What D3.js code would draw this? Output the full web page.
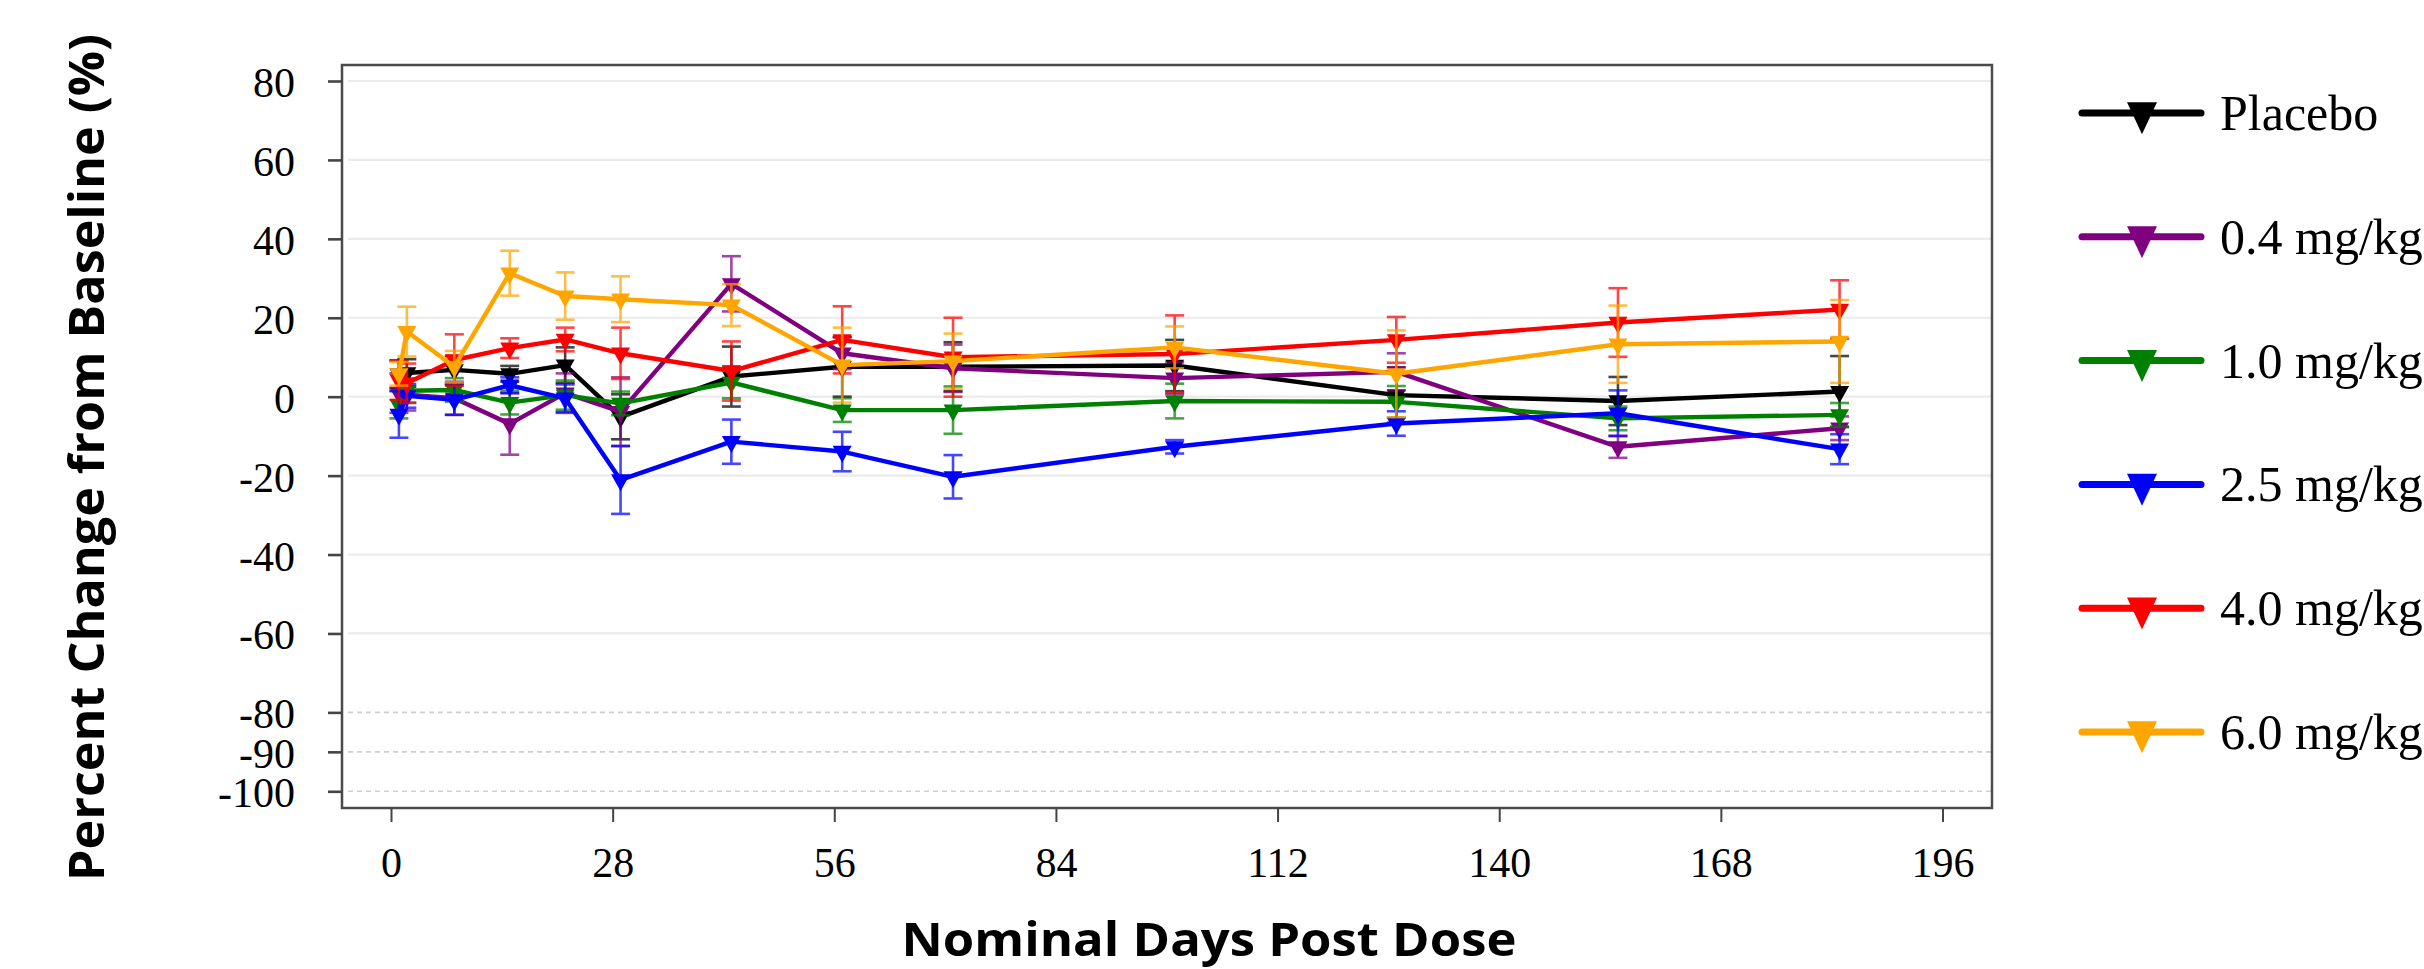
<!DOCTYPE html>
<html>
<head>
<meta charset="utf-8">
<script src="https://cdn.jsdelivr.net/npm/d3@7/dist/d3.min.js"></script>
<style>
  html, body { margin: 0; padding: 0; background: #fff; }
  svg { display: block; }
</style>
</head>
<body>
<svg id="chart" width="2424" height="969"></svg>
<script>
// ---- data ----
const days = [1, 2, 8, 15, 22, 29, 43, 57, 71, 99, 127, 155, 183];
const seriesNames = ["Placebo", "0.4 mg/kg", "1.0 mg/kg", "2.5 mg/kg", "4.0 mg/kg", "6.0 mg/kg"];
const seriesColors = ["#000000", "#800080", "#008000", "#0000ff", "#ff0000", "#ffa500"];

const placeboMean = [5.7, 6.0, 6.8, 5.8, 8.0, -5.1, 5.1, 7.6, 7.6, 7.9, 0.4, -1.1, 1.3];
const placeboSE   = [3.5, 3.5, 3.5, 2.0, 4.5, 5.7, 7.6, 7.6, 6.2, 6.5, 7.0, 6.1, 9.0];
const d04Mean = [0.9, 0.5, -0.4, -6.9, 0.9, -3.8, 28.6, 11.0, 7.2, 4.7, 6.3, -12.7, -8.0];
const d04SE   = [5.0, 4.0, 4.2, 7.8, 5.0, 8.7, 7.0, 4.0, 6.0, 4.0, 4.7, 2.8, 3.0];
const d10Mean = [-2.0, 1.5, 1.7, -1.5, 0.4, -1.7, 3.6, -3.4, -3.4, -1.1, -1.3, -5.5, -4.6];
const d10SE   = [3.5, 3.0, 3.0, 3.0, 3.7, 3.0, 4.0, 3.0, 6.0, 4.4, 4.0, 3.0, 3.0];
const d25Mean = [-4.5, 0.2, -0.8, 2.9, -0.4, -21.1, -11.4, -13.9, -20.3, -12.7, -6.8, -4.2, -13.3];
const d25SE   = [5.9, 3.0, 3.8, 2.0, 3.5, 8.6, 5.6, 5.0, 5.5, 1.7, 3.1, 5.8, 3.8];
const d40Mean = [4.2, 3.4, 9.3, 12.3, 14.5, 11.0, 6.5, 14.4, 10.0, 10.8, 14.4, 18.8, 22.1];
const d40SE   = [5.0, 5.0, 6.5, 2.5, 3.0, 6.5, 7.5, 8.5, 10.0, 9.8, 5.8, 8.7, 7.4];
const d60Mean = [5.8, 16.5, 7.6, 31.3, 25.5, 24.7, 23.2, 8.0, 9.0, 12.5, 5.8, 13.3, 14.0];
const d60SE   = [3.0, 6.3, 4.0, 5.7, 6.0, 5.8, 5.3, 9.5, 7.0, 5.3, 11.0, 9.8, 10.5];

const xTicks = [0, 28, 56, 84, 112, 140, 168, 196];
const yTicks = [80, 60, 40, 20, 0, -20, -40, -60, -80, -90, -100];
const dashedTicks = [-80, -90, -100];
const xTitle = "Nominal Days Post Dose";
const yTitle = "Percent Change from Baseline (%)";

const means = [placeboMean, d04Mean, d10Mean, d25Mean, d40Mean, d60Mean];
const ses = [placeboSE, d04SE, d10SE, d25SE, d40SE, d60SE];
const series = seriesNames.map((name, i) => ({
  name, color: seriesColors[i],
  points: days.map((d, j) => ({ day: d, v: means[i][j], se: ses[i][j] }))
}));

// ---- layout ----
const box = { left: 342, right: 1992, top: 65, bottom: 808 };
const x = d3.scaleLinear().domain([0, 196]).range([391, 1942.5]);
const y = d3.scaleLinear().domain([-100, 80]).range([791.3, 81]);

const svg = d3.select("#chart");
const serif = "'Liberation Serif', 'Times New Roman', serif";
const sans = "'Open Sans', 'Noto Sans', sans-serif";
const fmt = d => String(d); // plain hyphen-minus as in the reference

// gridlines
const grid = svg.append("g");
yTicks.forEach(t => {
  const dashed = dashedTicks.includes(t);
  grid.append("line")
    .attr("x1", box.left + 6).attr("x2", box.right)
    .attr("y1", y(t)).attr("y2", y(t))
    .attr("stroke", dashed ? "#d0d0d0" : "#ebebeb")
    .attr("stroke-width", dashed ? 1.6 : 2.2)
    .attr("stroke-dasharray", dashed ? "5,4" : null);
});

// frame
svg.append("rect")
  .attr("x", box.left).attr("y", box.top)
  .attr("width", box.right - box.left).attr("height", box.bottom - box.top)
  .attr("fill", "none").attr("stroke", "#4a4a4a").attr("stroke-width", 2.5);

// y axis
const yAxis = svg.append("g")
  .attr("transform", `translate(${box.left},0)`)
  .call(d3.axisLeft(y).tickValues(yTicks).tickSize(14).tickFormat(fmt));
yAxis.select(".domain").remove();
yAxis.selectAll(".tick line").attr("stroke", "#444").attr("stroke-width", 2.6);
yAxis.selectAll(".tick text")
  .attr("x", -47).attr("dy", 15.5)
  .attr("font-family", serif).attr("font-size", 42).attr("fill", "#000");

// x axis
const xAxis = svg.append("g")
  .attr("transform", `translate(0,${box.bottom})`)
  .call(d3.axisBottom(x).tickValues(xTicks).tickSize(14).tickFormat(fmt));
xAxis.select(".domain").remove();
xAxis.selectAll(".tick line").attr("stroke", "#444").attr("stroke-width", 2);
xAxis.selectAll(".tick text")
  .attr("y", 69).attr("dy", 0)
  .attr("font-family", serif).attr("font-size", 42).attr("fill", "#000");

// titles
svg.append("text")
  .attr("x", 1209).attr("y", 956)
  .attr("text-anchor", "middle")
  .attr("font-family", sans).attr("font-weight", "bold").attr("font-size", 46)
  .attr("textLength", 615).attr("lengthAdjust", "spacingAndGlyphs")
  .text(xTitle);
svg.append("text")
  .attr("transform", "translate(104,457.5) rotate(-90)")
  .attr("text-anchor", "middle")
  .attr("font-family", sans).attr("font-weight", "bold").attr("font-size", 48)
  .attr("textLength", 847).attr("lengthAdjust", "spacingAndGlyphs")
  .text(yTitle);

// triangle (pointing down, centroid at origin)
function tri(w, h) {
  return `M${-w / 2},${-h / 3}L${w / 2},${-h / 3}L0,${2 * h / 3}Z`;
}

// series
const line = d3.line().x(d => x(d.day)).y(d => y(d.v));
const plot = svg.append("g");
series.forEach(s => {
  const g = plot.append("g");
  // error bars
  s.points.forEach(p => {
    const cx = x(p.day), y1 = y(p.v + p.se), y2 = y(p.v - p.se);
    const eb = g.append("g").attr("stroke", s.color).attr("stroke-width", 2.6).attr("opacity", 0.72);
    eb.append("line").attr("x1", cx).attr("x2", cx).attr("y1", y1).attr("y2", y2);
    eb.append("line").attr("x1", cx - 9.5).attr("x2", cx + 9.5).attr("y1", y1).attr("y2", y1);
    eb.append("line").attr("x1", cx - 9.5).attr("x2", cx + 9.5).attr("y1", y2).attr("y2", y2);
  });
  g.append("path").datum(s.points)
    .attr("d", line).attr("fill", "none")
    .attr("stroke", s.color).attr("stroke-width", 4.4).attr("stroke-linejoin", "round");
  g.selectAll("path.m").data(s.points).enter().append("path")
    .attr("class", "m")
    .attr("transform", d => `translate(${x(d.day)},${y(d.v)})`)
    .attr("d", tri(19, 17)).attr("fill", s.color);
});

// legend
const legend = svg.append("g");
series.forEach((s, i) => {
  const ly = 113 + i * 123.8;
  legend.append("line")
    .attr("x1", 2082).attr("x2", 2201).attr("y1", ly).attr("y2", ly)
    .attr("stroke", s.color).attr("stroke-width", 7).attr("stroke-linecap", "round");
  legend.append("path")
    .attr("transform", `translate(2142,${ly})`)
    .attr("d", tri(30, 32)).attr("fill", s.color);
  legend.append("text")
    .attr("x", 2220).attr("y", ly + 17)
    .attr("font-family", serif).attr("font-size", 50).attr("fill", "#000")
    .text(s.name);
});
</script>
</body>
</html>
